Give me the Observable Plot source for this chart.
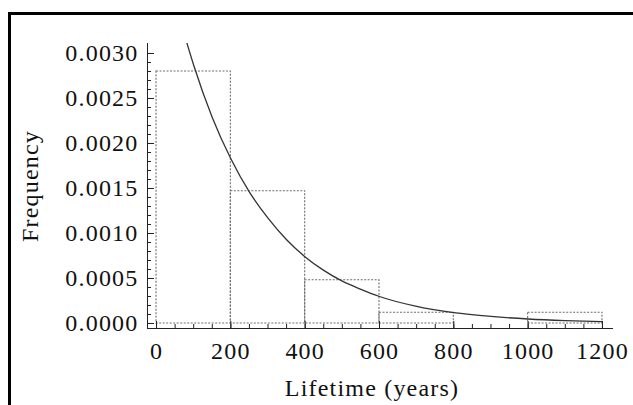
<!DOCTYPE html>
<html><head><meta charset="utf-8">
<script src="https://cdn.jsdelivr.net/npm/d3@7"></script>
<script src="https://cdn.jsdelivr.net/npm/@observablehq/plot@0.6"></script>
<style>
html,body{margin:0;padding:0;background:#fff;}
#wrap{position:relative;width:633px;height:405px;overflow:hidden;background:#fff;}
#chart{position:absolute;left:0;top:0;}
#border{position:absolute;left:8px;top:12px;right:-10px;bottom:-10px;border-top:3px solid #000;border-left:3px solid #000;pointer-events:none;}
</style></head><body>
<div id="wrap"><div id="chart"></div><div id="border"></div></div>
<script>
// Histogram bins (lifetime in years) and frequencies
const binStart = [0, 200, 400, 600, 800, 1000];
const binEnd   = [200, 400, 600, 800, 1000, 1200];
const binFreq  = [0.0028, 0.00147, 0.00048, 0.00012, 0, 0.00012];

// Fitted density curve
const curveX = [80, 100, 150, 200, 250, 300, 350, 400, 450, 500, 550, 600, 700, 800, 900, 1000, 1100, 1200];
const curveY = [0.00314, 0.00287, 0.00229, 0.00183, 0.00146, 0.00117, 0.00093, 0.00074, 0.00059, 0.00047, 0.00038, 0.00030, 0.00019, 0.00012, 0.000078, 0.00005, 0.000032, 0.00002];

// Axis ticks and labels
const xTicks = [0, 200, 400, 600, 800, 1000, 1200];
const xTickLabels = ["0", "200", "400", "600", "800", "1000", "1200"];
const yTicks = [0, 0.0005, 0.0010, 0.0015, 0.0020, 0.0025, 0.0030];
const yTickLabels = ["0.0000", "0.0005", "0.0010", "0.0015", "0.0020", "0.0025", "0.0030"];
const xLabel = "Lifetime (years)";
const yLabel = "Frequency";

const xMinor = d3.range(0, 1201, 50);
const yMinor = d3.range(0, 31).map(i => i / 10000);

const bins = binStart.map((s, i) => ({x1: s, x2: binEnd[i], y: binFreq[i]}));
const curve = curveX.map((x, i) => ({x, y: curveY[i]}));

const axisColor = "#222";
const textColor = "#111";
const plot = Plot.plot({
  width: 633,
  height: 405,
  marginLeft: 147,
  marginRight: 21,
  marginTop: 43,
  marginBottom: 77,
  style: {fontFamily: "'Liberation Serif', 'Times New Roman', serif", fontSize: "24px", letterSpacing: "1.2px", color: textColor, background: "transparent", overflow: "visible"},
  x: {domain: [-24.3, 1227]},
  y: {domain: [-0.0000556, 0.003111]},
  marks: [
    Plot.rectY(bins, {x1: "x1", x2: "x2", y: "y", fill: "none", stroke: "#6e6e6e", strokeWidth: 1.1, strokeDasharray: "2,1.5"}),
    Plot.line(curve, {x: "x", y: "y", stroke: "#333", strokeWidth: 1.3, curve: "monotone-x", clip: true}),
    Plot.frame({anchor: "left", stroke: axisColor}),
    Plot.frame({anchor: "bottom", stroke: axisColor}),
    Plot.axisY({ticks: yMinor, anchor: "left", tickSize: -4, tickFormat: () => "", label: null, stroke: axisColor}),
    Plot.axisY({ticks: yTicks, anchor: "left", tickSize: -7, tickFormat: () => "", label: null, stroke: axisColor}),
    Plot.axisY({ticks: yTicks, anchor: "left", tickSize: 0, tickPadding: 9, tickFormat: d => yTickLabels[yTicks.indexOf(d)], label: null, fill: textColor}),
    Plot.axisX({ticks: xMinor, anchor: "bottom", tickSize: -4, tickFormat: () => "", label: null, stroke: axisColor}),
    Plot.axisX({ticks: xTicks, anchor: "bottom", tickSize: -7, tickFormat: () => "", label: null, stroke: axisColor}),
    Plot.axisX({ticks: xTicks, anchor: "bottom", tickSize: 0, tickPadding: 13, tickFormat: d => xTickLabels[xTicks.indexOf(d)], label: null, fill: textColor}),
    Plot.text([xLabel], {text: d => d, frameAnchor: "bottom", textAnchor: "middle", lineAnchor: "bottom", dx: -8, dy: 67, fill: textColor}),
    Plot.text([yLabel], {text: d => d, frameAnchor: "left", textAnchor: "middle", lineAnchor: "middle", rotate: -90, dx: -117, dy: 0, fill: textColor})
  ]
});
document.getElementById("chart").appendChild(plot);
</script>
</body></html>
